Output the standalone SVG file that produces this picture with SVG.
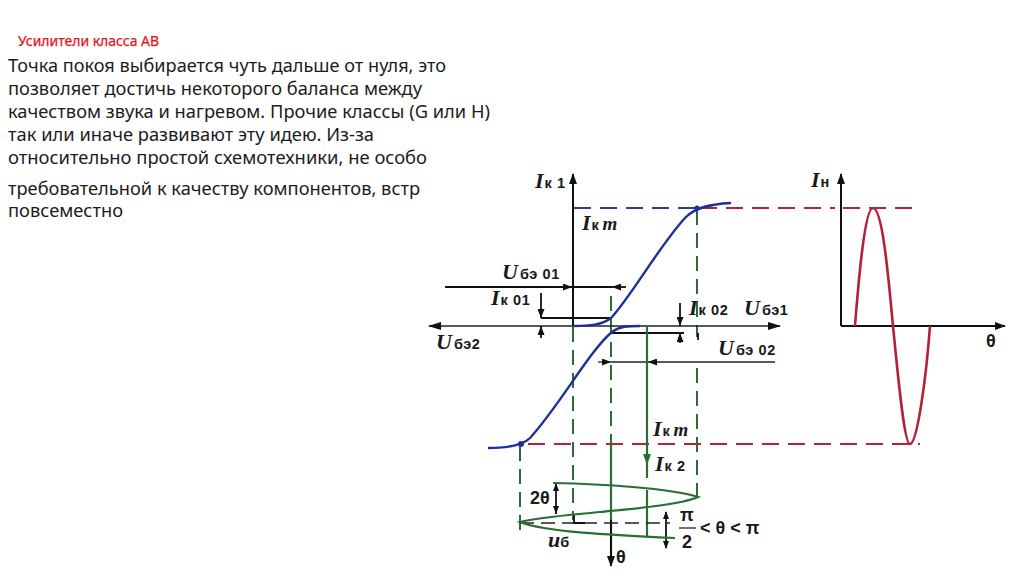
<svg xmlns="http://www.w3.org/2000/svg" width="1024" height="576" viewBox="0 0 1024 576">
<style>
.body{font-family:"Noto Sans","Liberation Sans",sans-serif;font-size:17.5px;fill:#1c1c1c}
.head{font-family:"Noto Sans","Liberation Sans",sans-serif;font-size:13.5px;fill:#e8141c;stroke:#e8141c;stroke-width:.25}
.lab{font-family:"Liberation Serif",serif;font-style:italic;font-weight:bold;font-size:22px;fill:#1a1a1a}
.sub{font-family:"Liberation Sans",sans-serif;font-style:normal;font-weight:bold;font-size:14.5px;letter-spacing:.6px}
.gr{font-family:"Liberation Sans",sans-serif;font-weight:bold;font-size:18px;fill:#1a1a1a}
.ax{fill:none;stroke:#111;stroke-width:2}
.thin{fill:none;stroke:#222;stroke-width:1.3}
.thick{fill:none;stroke:#111;stroke-width:1.8}
.gd{fill:none;stroke:#2a6e36;stroke-width:2;stroke-dasharray:15 8}
.gs{fill:none;stroke:#2a6e36;stroke-width:2.2}
.rd{fill:none;stroke:#b0243a;stroke-width:2;stroke-dasharray:17 9}
.bd{fill:none;stroke:#2a3f95;stroke-width:2;stroke-dasharray:17 9}
.bl{fill:none;stroke:#1f2f98;stroke-width:2.4}
.rs{fill:none;stroke:#b3203a;stroke-width:2.6}
</style>
<defs>
<marker id="a" markerWidth="12" markerHeight="8" refX="10" refY="4" orient="auto" markerUnits="userSpaceOnUse"><path d="M0 0L11 4L0 8z" fill="#111"/></marker>
<marker id="as" markerWidth="9" markerHeight="7" refX="9" refY="3.5" orient="auto" markerUnits="userSpaceOnUse"><path d="M0 0L9 3.5L0 7z" fill="#111"/></marker>
<marker id="ag" markerWidth="12" markerHeight="8" refX="10" refY="4" orient="auto" markerUnits="userSpaceOnUse"><path d="M0 0L11 4L0 8z" fill="#2a6e36"/></marker>
</defs>
<rect width="1024" height="576" fill="#fff"/>
<g id="text-block">
<text class="head" x="18" y="46" textLength="141" lengthAdjust="spacingAndGlyphs">Усилители класса АВ</text>
<text class="body" x="8" y="72" textLength="438" lengthAdjust="spacingAndGlyphs">Точка покоя выбирается чуть дальше от нуля, это</text>
<text class="body" x="8" y="95" textLength="414" lengthAdjust="spacingAndGlyphs">позволяет достичь некоторого баланса между</text>
<text class="body" x="8" y="118" textLength="482" lengthAdjust="spacingAndGlyphs">качеством звука и нагревом. Прочие классы (G или H)</text>
<text class="body" x="8" y="141" textLength="366" lengthAdjust="spacingAndGlyphs">так или иначе развивают эту идею. Из-за</text>
<text class="body" x="8" y="164" textLength="419" lengthAdjust="spacingAndGlyphs">относительно простой схемотехники, не особо</text>
<text class="body" x="8" y="195" textLength="412" lengthAdjust="spacingAndGlyphs">требовательной к качеству компонентов, встр</text>
<text class="body" x="8" y="217" textLength="115" lengthAdjust="spacingAndGlyphs">повсеместно</text>
</g>
<g id="connectors">
<path class="gd" d="M573 327V520"/>
<path class="gd" d="M611 296V444"/>
<path class="gd" d="M697 210V337"/>
<path class="gd" d="M697 368V496"/>
<path class="gd" d="M520 446V532"/>
<path class="bd" d="M574 208H697"/>
<path class="rd" d="M700 208H835"/>
<path class="rd" d="M843 208H920"/>
<path class="rd" d="M528 444H920"/>
<path class="ax" d="M573 326V174" marker-end="url(#a)"/>
<path class="thin" d="M429 326H780"/>
<path d="M428 326L441 322V330z M781 326L768 322V330z" fill="#111"/>
<path class="thick" d="M445 287H572" marker-end="url(#as)"/>
<path class="thick" d="M573 287H612"/>
<path class="thick" d="M626 287H612" marker-end="url(#as)"/>
<path class="thick" d="M541 293V318" marker-end="url(#as)"/>
<path class="thick" d="M541 318H611"/>
<path class="thick" d="M541 338V326" marker-end="url(#as)"/>
<path class="thick" d="M680 303V326" marker-end="url(#as)"/>
<path class="thick" d="M612 333H684"/>
<path class="thick" d="M680 343V333" marker-end="url(#as)"/>
<path class="thick" d="M698 333V340"/>
<path class="thin" d="M598 362H611" marker-end="url(#as)"/>
<path class="thin" d="M611 362H648"/>
<path class="thin" d="M775 362H648" marker-end="url(#as)"/>
<path class="gs" d="M640 326H647V464" marker-end="url(#ag)"/>
<path class="gs" d="M647 464V478"/>
<path class="gs" d="M647 490V537"/>
<path class="gs" d="M611 444V556"/>
<path class="ax" d="M611 520V566" marker-end="url(#a)"/>
<path class="thick" d="M556 484V514"/>
<path d="M556 483l-3 8h6z M556 514l-3 -8h6z" fill="#111"/>
<path class="thick" d="M666 512V548"/>
<path d="M666 511l-3 8h6z M666 549l-3 -8h6z" fill="#111"/>
<path class="thin" d="M520 523H670" stroke-dasharray="14 7"/>
<path class="thick" d="M574 514V523H585"/>
<path class="ax" d="M841 326V174" marker-end="url(#a)"/>
<path class="ax" d="M841 326H1005" marker-end="url(#a)"/>
</g>
<g id="curve-upper"><path class="bl" d="M573 326C590 326 602 325 611 318C630 298 660 245 685 218C695 207 712 204 731 203"/><circle cx="697" cy="208" r="2.5" fill="#1f2f98"/></g>
<g id="curve-lower"><path class="bl" d="M640 326C628 326 620 326 612 332C590 350 560 405 530 438C522 446 505 448 488 448"/><circle cx="521" cy="444" r="3" fill="#1f2f98"/></g>
<g id="lens"><path class="gs" d="M553 483C600 484 670 488 698 497C680 505 630 509 600 512C570 515 540 517 520 522C545 532 610 535 675 538"/></g>
<g id="load-wave"><path class="rs" d="M855 326C859 275 865 208 873 208C883 208 889 285 893 326C898 375 904 444 910 444C917 444 926 380 930 326"/></g>
<g id="labels">
<text class="lab" x="535" y="188">I<tspan class="sub" dx="1">к 1</tspan></text>
<text class="lab" x="582" y="230">I<tspan class="sub" dx="1">к</tspan><tspan dx="3" font-size="19">m</tspan></text>
<text class="lab" x="502" y="279">U<tspan class="sub" dx="2">бэ 01</tspan></text>
<text class="lab" x="491" y="305">I<tspan class="sub" dx="1">к 01</tspan></text>
<text class="lab" x="689" y="315">I<tspan class="sub" dx="1">к 02</tspan></text>
<text class="lab" x="744" y="315">U<tspan class="sub" dx="2">бэ1</tspan></text>
<text class="lab" x="436" y="349">U<tspan class="sub" dx="2">бэ2</tspan></text>
<text class="lab" x="718" y="355">U<tspan class="sub" dx="2">бэ 02</tspan></text>
<text class="lab" x="653" y="436">I<tspan class="sub" dx="1">к</tspan><tspan dx="3" font-size="19">m</tspan></text>
<text class="lab" x="655" y="471">I<tspan class="sub" dx="1">к 2</tspan></text>
<text class="gr" x="530" y="504">2θ</text>
<text class="lab" x="548" y="547" font-size="16">u<tspan class="sub" dx="0">б</tspan></text>
<text class="gr" x="616" y="563">θ</text>
<text class="gr" x="687" y="521" text-anchor="middle">π</text>
<text class="gr" x="687" y="548" text-anchor="middle">2</text>
<path class="thin" d="M679 528H696"/>
<text class="gr" x="700" y="534" font-size="20">&lt; θ &lt; π</text>
<text class="lab" x="811" y="187">I<tspan class="sub" dx="1">н</tspan></text>
<text class="gr" x="986" y="347">θ</text>
</g>
</svg>
